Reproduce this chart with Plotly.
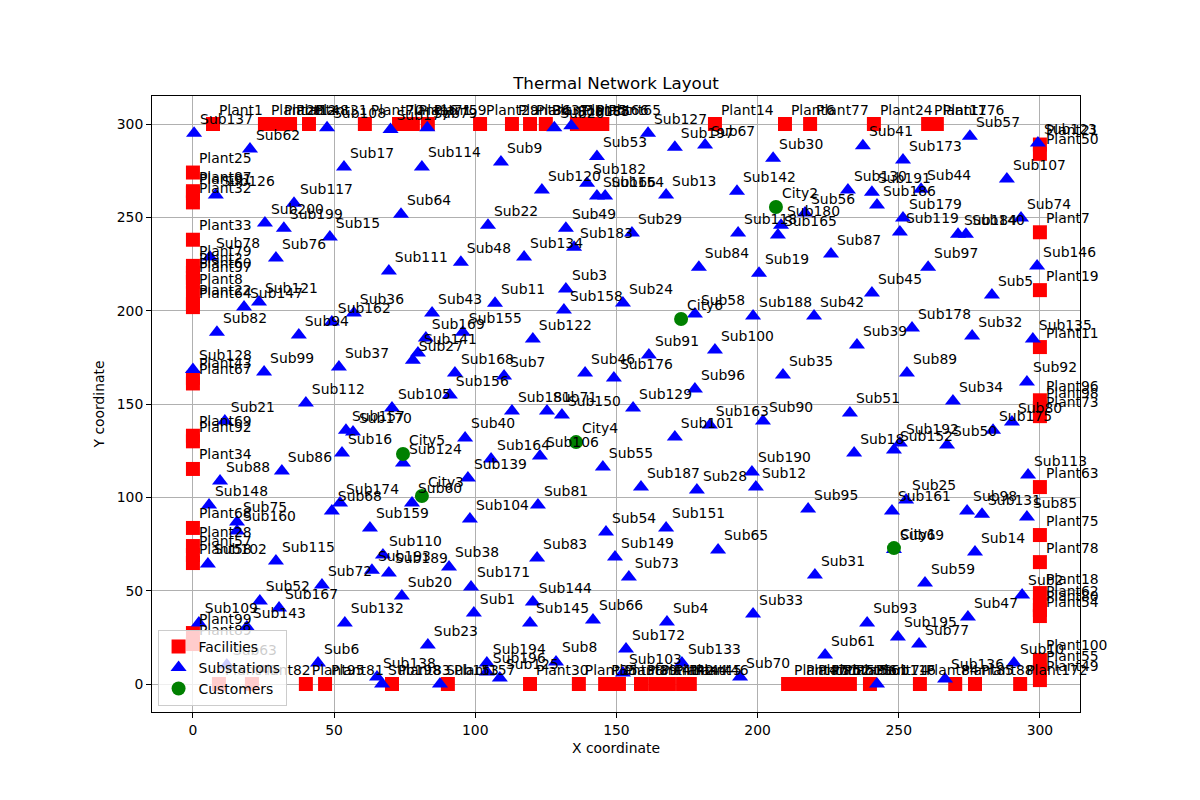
import plotly.graph_objects as go

# ---------------- data ----------------
fac_names = [
    # top row (y=300)
    "Plant1", "Plant26", "Plant12", "Plant48", "Plant31", "Plant70", "Plant16", "Plant71",
    "Plant59", "Plant29", "Plant36", "Plant37", "Plant10", "Plant5", "Plant66", "Plant65",
    "Plant14", "Plant6", "Plant77", "Plant24", "Plant17", "Plant176",
    # bottom row (y=0)
    "Plant40", "Plant82", "Plant95", "Plant81", "Plant83", "Plant157", "Plant30", "Plant35",
    "Plant38", "Plant39", "Plant41", "Plant42", "Plant44", "Plant45", "Plant46", "Plant47",
    "Plant51", "Plant52", "Plant53", "Plant56", "Plant61", "Plant74", "Plant84", "Plant85",
    "Plant88", "Plant172",
    # left column (x=0)
    "Plant25", "Plant87", "Plant91", "Plant32", "Plant33", "Plant79", "Plant2", "Plant60",
    "Plant97", "Plant8", "Plant22", "Plant64", "Plant43", "Plant67", "Plant69", "Plant92",
    "Plant34", "Plant68", "Plant28", "Plant57", "Plant58", "Plant99", "Plant89",
    # right column (x=300)
    "Plant21", "Plant50", "Plant7", "Plant19", "Plant11", "Plant96", "Plant98", "Plant73",
    "Plant63", "Plant75", "Plant78", "Plant18", "Plant62", "Plant80", "Plant54", "Plant100",
    "Plant55", "Plant49",
]
fac_x = [
    7.1, 25.5, 30.1, 34.4, 41.1, 60.9, 73, 77.9,
    83.2, 101.7, 113, 119.4, 125, 136, 140.6, 145,
    184.9, 209.7, 218.6, 241.2, 260.4, 263.5,
    9.2, 20.9, 40, 46.8, 70.5, 90.3, 119.4, 136.7,
    146, 150.9, 158.7, 163.7, 168.6, 173.6, 176, 210.8,
    215, 219.3, 223.9, 228.5, 232.7, 239.8, 257.5, 270,
    277, 293,
    0, 0, 0, 0, 0, 0, 0, 0,
    0, 0, 0, 0, 0, 0, 0, 0,
    0, 0, 0, 0, 0, 0, 0,
    300, 300, 300, 300, 300, 300, 300, 300,
    300, 300, 300, 300, 300, 300, 300, 300,
    300, 300,
]
fac_y = [
    300, 300, 300, 300, 300, 300, 300, 300,
    300, 300, 300, 300, 300, 300, 300, 300,
    300, 300, 300, 300, 300, 300,
    0, 0, 0, 0, 0, 0, 0, 0,
    0, 0, 0, 0, 0, 0, 0, 0,
    0, 0, 0, 0, 0, 0, 0, 0,
    0, 0,
    274, 264, 263, 258, 238, 224, 220.3, 217.6,
    215.5, 209.4, 203.5, 201.9, 164, 161, 133, 130,
    115.2, 83.6, 73.9, 69.1, 64.8, 27.3, 21.4,
    289, 284, 242, 211, 180.5, 152, 148, 143.5,
    105.5, 79.8, 65.3, 48.7, 42.3, 39.6, 36.4, 12.9,
    7.5, 2.1,
]

sub_names = [
    "Sub137", "Sub108", "Sub177", "Sub79", "Sub26", "Sub185", "Sub62", "Sub127",
    "Sub53", "Sub197", "Sub67", "Sub30", "Sub41", "Sub57", "Sub173", "Sub123",
    "Sub107", "Sub17", "Sub114", "Sub9", "Sub120", "Sub182", "Sub166", "Sub154",
    "Sub126", "Sub117", "Sub200", "Sub199", "Sub15", "Sub78", "Sub76", "Sub64",
    "Sub22", "Sub49", "Sub183", "Sub134", "Sub48", "Sub111", "Sub3", "Sub13",
    "Sub142", "Sub29", "Sub118", "Sub84", "Sub180", "Sub165", "Sub56", "Sub130",
    "Sub191", "Sub186", "Sub44", "Sub179", "Sub119", "Sub87", "Sub184", "Sub140",
    "Sub74", "Sub97", "Sub146", "Sub5", "Sub45", "Sub19", "Sub58", "Sub24",
    "Sub188", "Sub42", "Sub11", "Sub158", "Sub43", "Sub155", "Sub169", "Sub141",
    "Sub27", "Sub122", "Sub168", "Sub7", "Sub156", "Sub105", "Sub46", "Sub176",
    "Sub181", "Sub71", "Sub150", "Sub40", "Sub164", "Sub106", "Sub139", "Sub124",
    "Sub55", "Sub60", "Sub91", "Sub100", "Sub35", "Sub96", "Sub129", "Sub163",
    "Sub90", "Sub101", "Sub190", "Sub12", "Sub187", "Sub28", "Sub95", "Sub121",
    "Sub147", "Sub82", "Sub94", "Sub162", "Sub36", "Sub128", "Sub99", "Sub37",
    "Sub112", "Sub21", "Sub157", "Sub170", "Sub16", "Sub88", "Sub86", "Sub148",
    "Sub68", "Sub174", "Sub75", "Sub160", "Sub102", "Sub115", "Sub72", "Sub52",
    "Sub167", "Sub132", "Sub109", "Sub143", "Sub63", "Sub6", "Sub138", "Sub198",
    "Sub159", "Sub104", "Sub81", "Sub110", "Sub193", "Sub189", "Sub38", "Sub20",
    "Sub171", "Sub1", "Sub144", "Sub145", "Sub66", "Sub83", "Sub54", "Sub149",
    "Sub23", "Sub194", "Sub196", "Sub125", "Sub153", "Sub8", "Sub151", "Sub73",
    "Sub65", "Sub4", "Sub33", "Sub172", "Sub103", "Sub133", "Sub70", "Sub25",
    "Sub161", "Sub98", "Sub131", "Sub85", "Sub14", "Sub69", "Sub59", "Sub31",
    "Sub2", "Sub47", "Sub93", "Sub195", "Sub77", "Sub61", "Sub136", "Sub10",
    "Sub116", "Sub135", "Sub32", "Sub178", "Sub39", "Sub89", "Sub92", "Sub34",
    "Sub80", "Sub175", "Sub50", "Sub51", "Sub18", "Sub192", "Sub152", "Sub113",
]
sub_x = [
    0.4, 47.5, 70, 83, 128, 134, 20.2, 161.2,
    143.1, 170.7, 181.4, 205.5, 237.3, 275.2, 251.5, 299.3,
    288.3, 53.5, 81.1, 109.1, 123.6, 139.6, 143.1, 146,
    8.1, 35.8, 25.5, 32.2, 48.5, 6, 29.4, 73.7,
    104.5, 132.1, 135, 117.3, 94.9, 69.4, 132.1, 167.6,
    192.7, 155.5, 193.1, 179.2, 208.3, 207.2, 216.8, 232,
    240.5, 242.3, 257.9, 251.5, 250.4, 226, 271, 273.8,
    293.3, 260.4, 299, 283, 240.5, 200.5, 177.8, 152.3,
    198.4, 220, 107, 131.4, 84.7, 95.6, 82.5, 79.7,
    77.9, 120.4, 92.8, 110.2, 91, 70.5, 138.9, 149.1,
    113, 125.4, 130.7, 96.4, 105.6, 122.9, 97.4, 74.4,
    145.2, 77.6, 161.5, 184.9, 209, 177.8, 155.9, 183.1,
    201.9, 170.7, 198, 199.4, 158.7, 178.5, 217.9, 23.4,
    18.1, 8.5, 37.5, 49.2, 57, 0, 25.2, 51.7,
    40, 11.3, 54.2, 56.7, 52.8, 9.6, 31.5, 5.7,
    49.2, 52.1, 15.6, 15.6, 5.3, 29.4, 45.7, 23.7,
    30.5, 53.8, 2.1, 19.1, 12, 44.3, 65.2, 67,
    62.7, 98.1, 122.2, 67.3, 63.4, 69.4, 90.7, 74,
    98.5, 99.5, 120.4, 119.4, 141.7, 121.9, 146.3, 149.5,
    83.2, 104.1, 104.1, 108.7, 87.5, 128.6, 167.6, 154.4,
    186, 167.9, 198.4, 153.4, 152.3, 173.2, 193.8, 252.6,
    247.6, 274.2, 279.5, 295.4, 277, 248.3, 259.3, 220.3,
    293.7, 274.5, 238.8, 249.7, 257.2, 223.9, 266.4, 290.8,
    242.3, 297.5, 276, 254.7, 235.2, 252.9, 295.4, 269.2,
    290.1, 283.4, 267.1, 232.7, 234.2, 250.4, 248.3, 295.8,
]
sub_y = [
    295, 298, 297, 298, 298, 299, 286.6, 295,
    282.6, 287.6, 288.7, 281.7, 288.3, 293.5, 280.7, 289.8,
    270.5, 276.9, 277, 279.6, 264.6, 268.3, 261.4, 261.4,
    261.9, 257.6, 246.9, 244.2, 239.4, 228.7, 228.2, 251.7,
    245.8, 244.2, 234, 228.7, 226, 221.2, 211.6, 261.9,
    264, 241.6, 241.6, 223.3, 245.8, 240.5, 252.3, 264.6,
    263.5, 256.6, 265, 249.6, 242.1, 230.3, 241, 241,
    249.6, 223.3, 223.9, 208.4, 209.4, 220.1, 198.2, 204.1,
    197.1, 197.1, 204, 200.3, 198.7, 188.5, 185.3, 177.3,
    173.5, 184.8, 166.6, 165, 154.8, 147.8, 166.6, 163.9,
    146.2, 146.2, 144.1, 131.8, 120.5, 122.1, 110.3, 118.4,
    116.2, 97, 176.2, 178.9, 165.5, 158, 147.8, 138.7,
    140.9, 132.3, 113.6, 105.5, 105.5, 103.9, 93.7, 204.6,
    201.9, 188.5, 186.9, 193.9, 198.7, 168.5, 167.1, 169.8,
    150.5, 140.9, 136, 135, 123.7, 108.7, 114.1, 95.9,
    92.7, 96.9, 86.8, 82, 64.3, 65.9, 53, 44.5,
    40.7, 32.7, 32.7, 30.5, 10.2, 11.2, 3.7, 0,
    83.6, 88.4, 95.9, 69.1, 61, 59.5, 62.7, 47.1,
    52, 38, 43.9, 32.7, 34.3, 67.5, 81.4, 68,
    20.9, 11.2, 6.4, 3.2, 0, 11.8, 83.6, 57.3,
    71.8, 33.2, 37.5, 18.7, 5.9, 11.2, 3.7, 98.6,
    92.7, 92.7, 91, 89.4, 70.7, 72, 54.1, 58.4,
    47.7, 35.9, 32.7, 25.2, 21.4, 15.5, 2.7, 11.2,
    0, 184.8, 186.4, 190.7, 181.6, 166.6, 161.8, 151.6,
    140.3, 136, 128, 145.2, 123.7, 129.1, 125.3, 111.9,
]

cust_names = ["City2", "City6", "City4", "City5", "City3", "City1"]
cust_x = [206.5, 172.9, 135.7, 74.4, 81.1, 248.3]
cust_y = [255.5, 195.5, 129.6, 123.2, 100.7, 72.8]

x_ticks = [0, 50, 100, 150, 200, 250, 300]
y_ticks = [0, 50, 100, 150, 200, 250, 300]

# ---------------- figure ----------------
FONT = "DejaVu Sans, Liberation Sans, sans-serif"
fig = go.Figure()

fig.add_trace(go.Scatter(x=fac_x, y=fac_y, mode="markers", name="Facilities",
                         marker=dict(symbol="square", size=14, color="#ff0000",
                                     line=dict(width=0))))
fig.add_trace(go.Scatter(x=sub_x, y=sub_y, mode="markers", name="Substations",
                         marker=dict(symbol="triangle-up", size=14, color="#0000ff",
                                     line=dict(width=0))))
fig.add_trace(go.Scatter(x=cust_x, y=cust_y, mode="markers", name="Customers",
                         marker=dict(symbol="circle", size=14, color="#008000",
                                     line=dict(width=0))))

# point labels (drawn above all markers, below the legend)
for names, xs, ys in ((fac_names, fac_x, fac_y), (sub_names, sub_x, sub_y),
                      (cust_names, cust_x, cust_y)):
    fig.add_trace(go.Scatter(x=xs, y=ys, text=names, mode="markers+text",
                             textposition="top right", showlegend=False,
                             hoverinfo="skip", cliponaxis=False,
                             marker=dict(size=8, color="rgba(0,0,0,0)"),
                             textfont=dict(family=FONT, size=13.9, color="black")))

axis_common = dict(showgrid=True, gridcolor="#b0b0b0", gridwidth=1, zeroline=False,
                   showline=True, linecolor="black", linewidth=1, mirror=True,
                   ticks="outside", ticklen=5, tickwidth=1, tickcolor="black",
                   tickfont=dict(family=FONT, size=13.9, color="black"))

fig.update_layout(
    width=1200, height=800,
    margin=dict(l=152, r=120, t=96, b=88),
    paper_bgcolor="white", plot_bgcolor="white",
    font=dict(family=FONT, size=13.9, color="black"),
    title=dict(text="Thermal Network Layout", x=0.5, xref="paper",
               y=1 - 83 / 800, yref="container", yanchor="middle",
               font=dict(family=FONT, size=16.7, color="black")),
    xaxis=dict(range=[-14.5, 314.2], tickvals=x_ticks,
               title=dict(text="X coordinate", standoff=6,
                          font=dict(family=FONT, size=13.9)), **axis_common),
    yaxis=dict(range=[-15, 315], tickvals=y_ticks,
               title=dict(text="Y coordinate", standoff=8,
                          font=dict(family=FONT, size=13.9)), **axis_common),
    legend=dict(x=0.006, y=0.01, xanchor="left", yanchor="bottom",
                bgcolor="rgba(255,255,255,0.8)", bordercolor="#cccccc", borderwidth=1,
                font=dict(family=FONT, size=13.9, color="black"),
                itemsizing="trace", tracegroupgap=0),
    showlegend=True,
)

fig.write_html("out.html")
